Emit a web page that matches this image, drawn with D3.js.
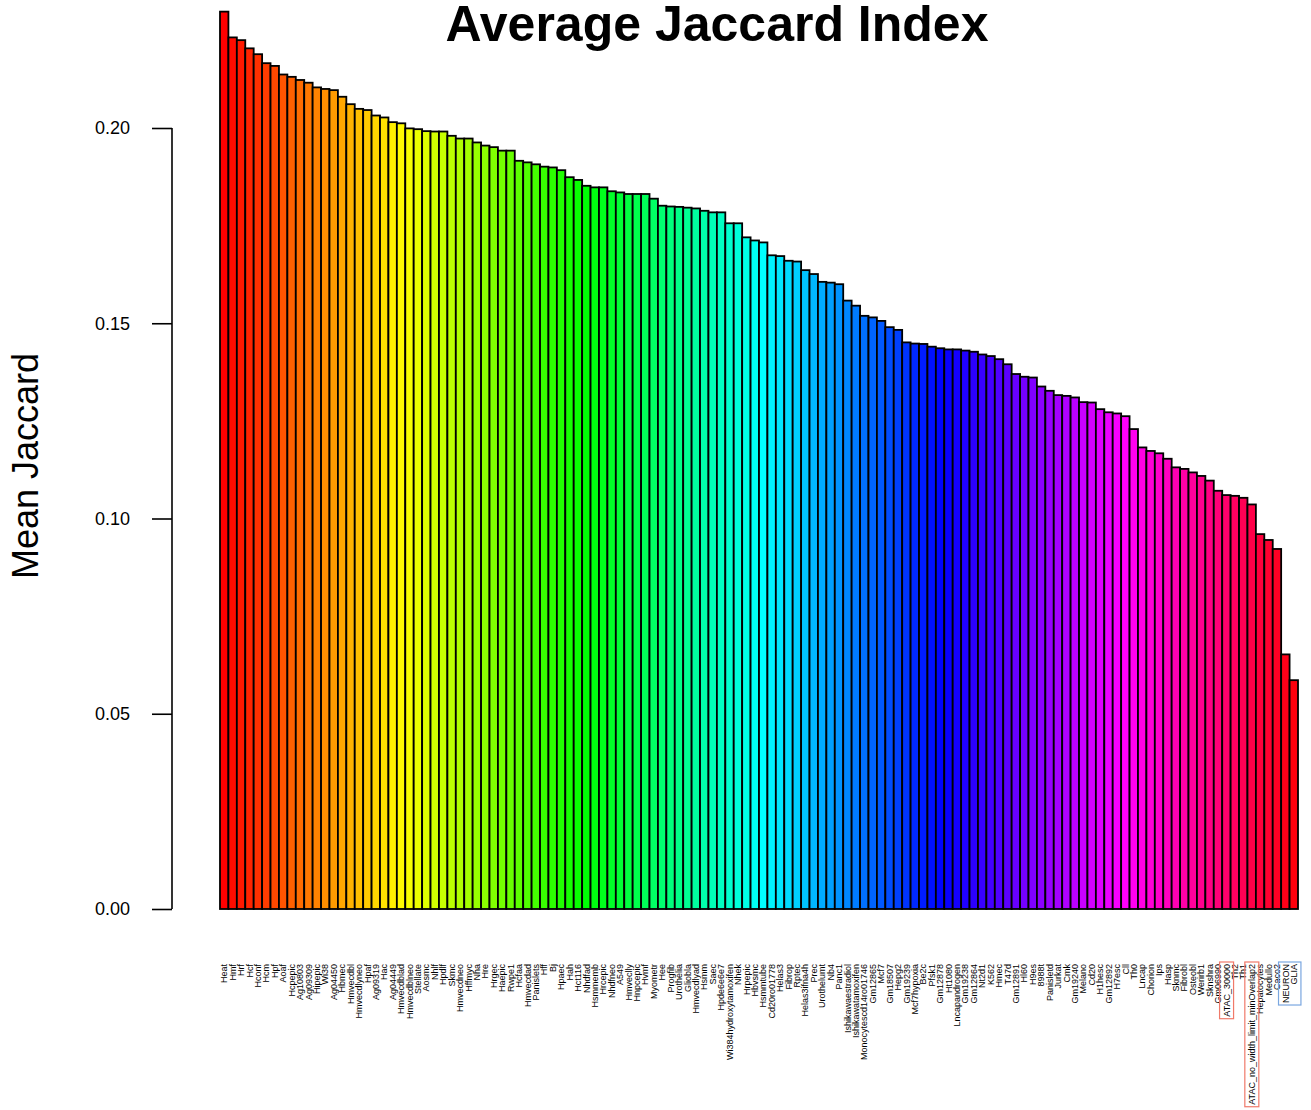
<!DOCTYPE html>
<html>
<head>
<meta charset="utf-8">
<script src="https://cdn.jsdelivr.net/npm/d3@7"></script>
<style>
  html, body { margin: 0; padding: 0; background: #fff; }
  svg { display: block; font-family: "Liberation Sans", Arial, Helvetica, sans-serif; }
</style>
</head>
<body>
<svg id="chart" width="1311" height="1110"></svg>
<script>
// Sample names, ordered by mean Jaccard index (descending)
const samples = [
  "Heat","Hmf","Hrf","Hcf","Hconf","Hcm","Hpf","Aoaf","Hcpepic","Ag10803",
  "Ag09309","Hipepic","Wi38","Ag04450","Hbmec","Hmvecdbl","Hmvecdlyneo","Hpaf","Ag09319","Hac",
  "Ag04449","Hmvecdblad","Hmvecdblneo","Stellate","Aosmc","Nhlf","Hpdlf","Skmc","Hmvecdneo","Hffmyc",
  "Nha","Hre","Hrgec","Haepic","Rwpe1","Hcfaa","Hmvecdad","Panislets","Hff","Bj",
  "Hpaec","Hah","Hct116","Nhdfad","Hsmmemb","Hrcepic","Nhdfneo","A549","Hmveclly","Hnpcepic",
  "Hvmf","Myometr","Hee","Progfib","Urothelia","Gliobla","Hmvecdlyad","Hsmm","Saec","Hpde6e6e7",
  "Wi384hydroxytamoxifen","Nhek","Hrpepic","Hbvsmc","Hsmmtube","Cd20ro01778","Helas3","Fibrop","Rptec","Helas3ifna4h",
  "Prec","Urothelumt","Nb4","Panc1","Ishikawaestradiol","Ishikawatamoxifen","Monocytescd14ro01746","Gm12865","Mcf7","Gm18507",
  "Hepg2","Gm19239","Mcf7hypoxia","Be2c","Pfsk1","Gm12878","Ht1080","Lncapandrogen","Gm19238","Gm12864",
  "Nt2d1","K562","Hmec","T47d","Gm12891","Hl60","H9es","8988t","Panisletd","Jurkat",
  "Cmk","Gm19240","Melano","Cd20","H1hesc","Gm12892","H7esc","Cll","Th0","Lncap",
  "Chorion","Ips","Hasp","Sknmc","Fibrobl","Osteobl","Werirb1","Sknshra","Gm06990","ATAC_30000",
  "Th2","Th1","ATAC_no_width_limit_minOverlap2","Hepatocytes","Medullo","Caco2","NEURON","GLIA"
];

// Mean Jaccard index per sample
const meanJaccard = [
  0.2298,0.2232,0.2225,0.2204,0.2189,0.2166,0.2159,0.2137,0.2131,0.2123,
  0.2116,0.2104,0.2100,0.2097,0.2080,0.2061,0.2049,0.2046,0.2032,0.2027,
  0.2015,0.2012,0.1999,0.1997,0.1992,0.1991,0.1991,0.1980,0.1973,0.1973,
  0.1963,0.1955,0.1951,0.1942,0.1942,0.1916,0.1912,0.1907,0.1901,0.1899,
  0.1892,0.1874,0.1867,0.1852,0.1848,0.1848,0.1838,0.1835,0.1831,0.1831,
  0.1831,0.1819,0.1801,0.1799,0.1798,0.1796,0.1794,0.1788,0.1784,0.1784,
  0.1756,0.1756,0.1720,0.1712,0.1707,0.1674,0.1672,0.1660,0.1658,0.1636,
  0.1626,0.1606,0.1604,0.1600,0.1558,0.1545,0.1519,0.1515,0.1506,0.1490,
  0.1483,0.1451,0.1448,0.1447,0.1440,0.1436,0.1433,0.1433,0.1430,0.1427,
  0.1420,0.1416,0.1408,0.1395,0.1370,0.1363,0.1361,0.1338,0.1327,0.1316,
  0.1314,0.1310,0.1298,0.1297,0.1280,0.1272,0.1269,0.1262,0.1229,0.1182,
  0.1173,0.1167,0.1153,0.1131,0.1127,0.1118,0.1109,0.1097,0.1071,0.1060,
  0.1058,0.1053,0.1036,0.0960,0.0945,0.0922,0.0652,0.0586
];

const yTicks = [0.00, 0.05, 0.10, 0.15, 0.20];

// Labels that get a highlight box, with the box colour
const highlightGroups = [
  { names: ["ATAC_30000"], color: "#f07a6a" },
  { names: ["ATAC_no_width_limit_minOverlap2"], color: "#f07a6a" },
  { names: ["NEURON", "GLIA"], color: "#7aa7e0" }
];

const svg = d3.select("#chart");

const x = d3.scaleBand()
  .domain(samples)
  .range([220, 1298])
  .paddingInner(0)
  .paddingOuter(0);

const y = d3.scaleLinear()
  .domain([0, 0.2])
  .range([909, 128]);

// R-style rainbow palette: hues evenly spaced from red round to just before red
const n = samples.length;
const colour = i => d3.hsl(360 * i / n, 1, 0.5).toString();

// Bars
svg.append("g")
  .selectAll("rect")
  .data(samples)
  .join("rect")
    .attr("x", d => x(d))
    .attr("width", x.bandwidth())
    .attr("y", (d, i) => y(meanJaccard[i]))
    .attr("height", (d, i) => y(0) - y(meanJaccard[i]))
    .attr("fill", (d, i) => colour(i))
    .attr("stroke", "#000")
    .attr("stroke-width", 1.8);

// Y axis
const yAxis = d3.axisLeft(y)
  .tickValues(yTicks)
  .tickFormat(d3.format(".2f"))
  .tickSize(20)
  .tickPadding(22);

const gy = svg.append("g")
  .attr("transform", "translate(172,0)")
  .call(yAxis);
gy.select(".domain").attr("d", `M0,${y(0.2)}V${y(0)}`).attr("stroke-width", 1.6);
gy.selectAll(".tick line").attr("stroke-width", 1.6);
gy.selectAll(".tick text")
  .attr("font-size", 18)
  .attr("font-family", "'Liberation Sans', Arial, sans-serif")
  .attr("fill", "#000");

// Sample labels, vertical, reading upward, ending just below the bars
const labels = svg.append("g")
  .selectAll("text")
  .data(samples)
  .join("text")
    .attr("transform", d => `translate(${x(d) + x.bandwidth() / 2},964) rotate(-90)`)
    .attr("text-anchor", "end")
    .attr("dy", "0.35em")
    .attr("font-size", 9)
    .attr("fill", "#000")
    .text(d => d);

// Highlight boxes round selected labels
const boxes = svg.append("g");
highlightGroups.forEach(g => {
  let x0 = Infinity, x1 = -Infinity, y0 = Infinity, y1 = -Infinity;
  labels.filter(d => g.names.includes(d)).each(function () {
    const b = this.getBoundingClientRect();
    x0 = Math.min(x0, b.left); x1 = Math.max(x1, b.right);
    y0 = Math.min(y0, b.top); y1 = Math.max(y1, b.bottom);
  });
  boxes.append("rect")
    .attr("x", x0 - 2)
    .attr("y", y0 - 2)
    .attr("width", x1 - x0 + 4)
    .attr("height", y1 - y0 + 4)
    .attr("fill", "none")
    .attr("stroke", g.color)
    .attr("stroke-width", 1.2);
});

// Title
svg.append("text")
  .attr("x", 717)
  .attr("y", 41)
  .attr("text-anchor", "middle")
  .attr("font-size", 50)
  .attr("font-weight", "bold")
  .attr("fill", "#000")
  .text("Average Jaccard Index");

// Y axis title
svg.append("text")
  .attr("transform", "translate(38,466) rotate(-90)")
  .attr("text-anchor", "middle")
  .attr("font-size", 36)
  .attr("fill", "#000")
  .text("Mean Jaccard");
</script>
</body>
</html>
